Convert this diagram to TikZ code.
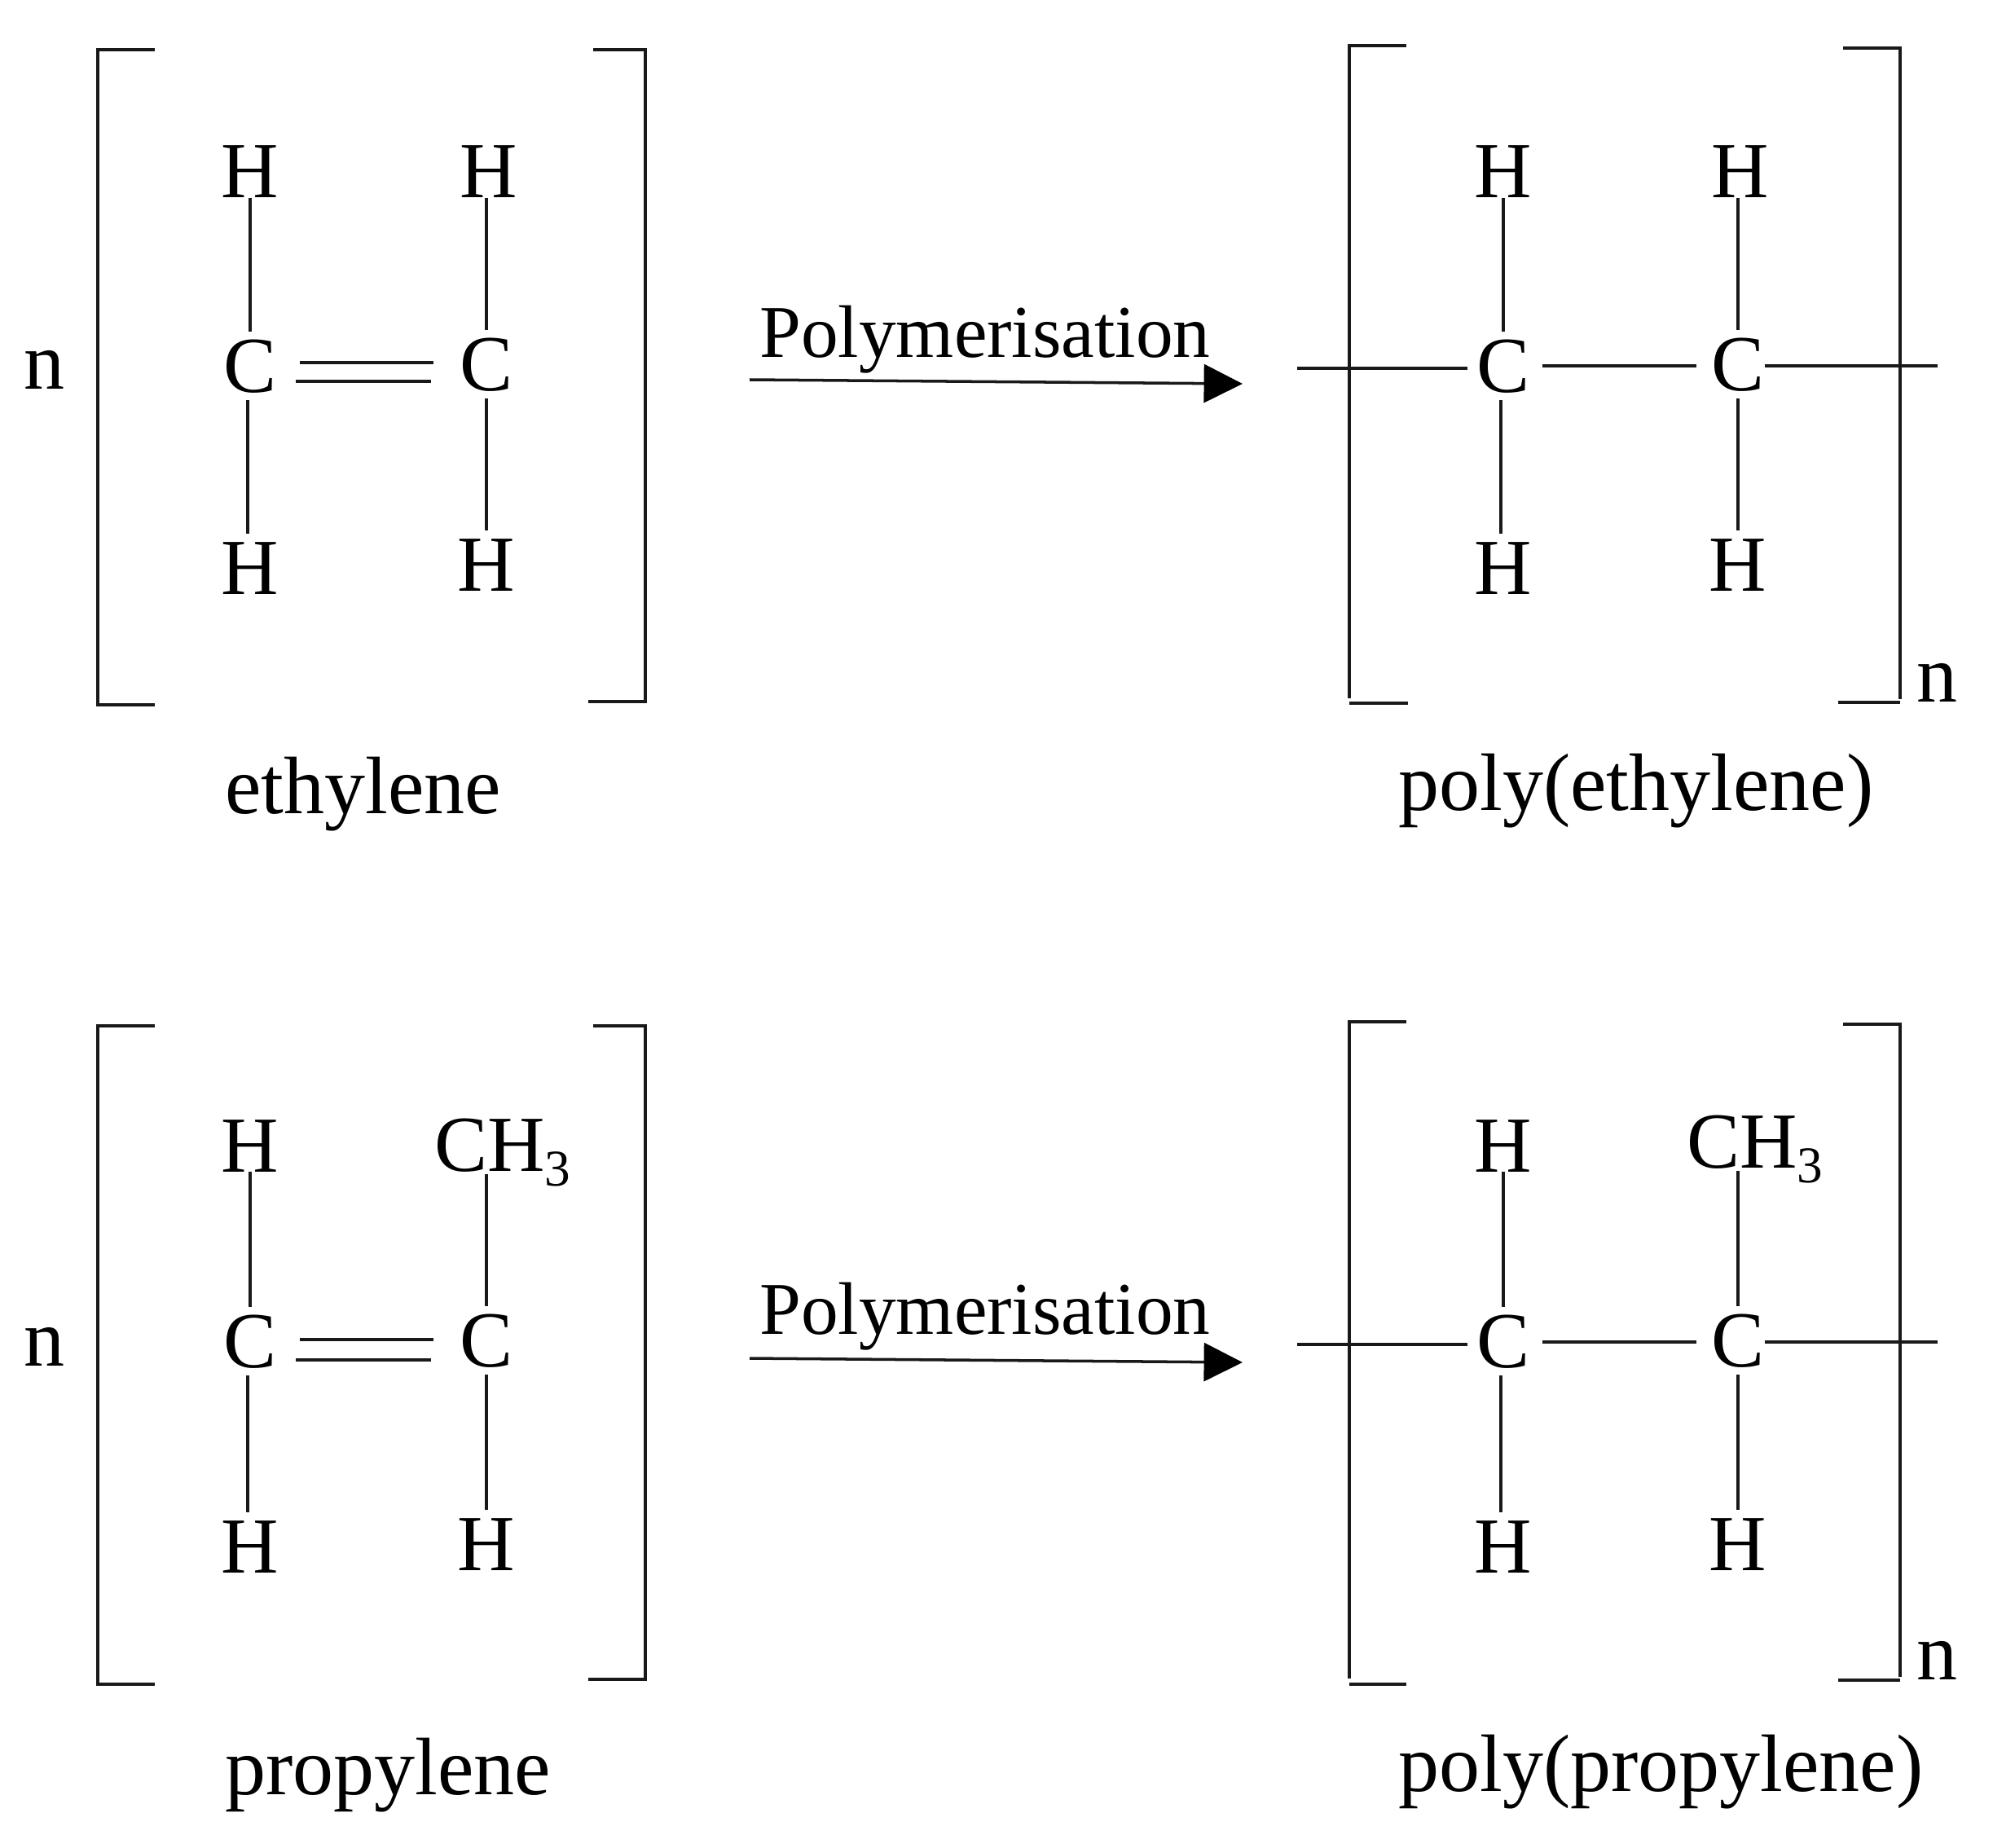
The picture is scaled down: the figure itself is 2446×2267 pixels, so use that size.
\documentclass[tikz,border=0pt]{standalone}
\usepackage{fontspec}
\setmainfont{Liberation Serif}
\usetikzlibrary{arrows.meta}

\newcommand{\lowthree}{\raisebox{-10.5pt}{\fontsize{36}{36}\selectfont 3}}

\tikzset{
  atom/.style = {anchor = base, inner xsep = 0pt, inner ysep = 5.5pt, text height = 36.5pt, text depth = 0pt, font = \fontsize{55.5}{60}\selectfont},
  tophyd/.style = {atom, inner ysep = 0pt},
  methyl/.style = {atom, anchor = base west, inner ysep = 2pt},
  label/.style = {anchor = base west, inner sep = 0pt, font = \fontsize{56.9}{60}\selectfont},
  reaction/.style = {anchor = base west, inner sep = 0pt, font = \fontsize{52}{56}\selectfont},
  bond/.style = {line width = 2pt, black!90},
  bracket/.style = {line width = 2pt, black!90, line join = miter},
  yields/.style = {line width = 2pt, black!90, -{Triangle[length = 27pt, width = 26.7pt, black]}}
}

\begin{document}
\begin{tikzpicture}[x = 0.02cm, y = -0.02cm]

  \useasboundingbox (0, 0) rectangle (2446, 2267);

  % Brackets
  \draw[bracket] (190, 61) -- (120, 61) -- (120, 865) -- (190, 865);
  \draw[bracket] (728, 61) -- (792, 61) -- (792, 861) -- (722, 861);
  \draw[bracket] (1726, 56) -- (1656, 56) -- (1656, 857);
  \draw[bracket] (1656, 863) -- (1728, 863);
  \draw[bracket] (2262, 59) -- (2332, 59) -- (2332, 858);
  \draw[bracket] (2332, 862) -- (2256, 862);
  \draw[bracket] (190, 1259) -- (120, 1259) -- (120, 2067) -- (190, 2067);
  \draw[bracket] (728, 1259) -- (792, 1259) -- (792, 2061) -- (722, 2061);
  \draw[bracket] (1726, 1254) -- (1656, 1254) -- (1656, 2060);
  \draw[bracket] (1656, 2067) -- (1726, 2067);
  \draw[bracket] (2262, 1257) -- (2332, 1257) -- (2332, 2058);
  \draw[bracket] (2332, 2062) -- (2256, 2062);

  % Ethylene
  \node[tophyd] (ehtl) at (307, 243) {H};
  \node[tophyd] (ehtr) at (600, 243) {H};
  \node[atom] (eca) at (307, 481) {C};
  \node[atom] (ecb) at (597, 479) {C};
  \node[atom] (ehbl) at (307, 729) {H};
  \node[atom] (ehbr) at (597, 725) {H};
  \draw[bond] (ehtl.south) -- (eca.north);
  \draw[bond] (ehtr.south -| ecb) -- (ecb.north);
  \draw[bond] ([shift = {(-3, 0)}]eca.south) -- ([shift = {(-3, 0)}]ehbl.north);
  \draw[bond] (ecb.south) -- (ehbr.north);
  \draw[bond] ([shift = {(28, -4)}]eca.east) -- ([shift = {(-32, -2)}]ecb.west);
  \draw[bond] ([shift = {(23, 19)}]eca.east) -- ([shift = {(-35, 21)}]ecb.west);

  % Poly(ethylene)
  \node[tophyd] (phtl) at (1845, 243) {H};
  \node[tophyd] (phtr) at (2136, 243) {H};
  \node[atom] (pca) at (1845, 481) {C};
  \node[atom] (pcb) at (2133, 479) {C};
  \node[atom] (phbl) at (1845, 729) {H};
  \node[atom] (phbr) at (2133, 725) {H};
  \coordinate (pl) at (1592, 452);
  \coordinate (pr) at (2378, 449);
  \draw[bond] (phtl.south) -- (pca.north);
  \draw[bond] (phtr.south -| pcb) -- (pcb.north);
  \draw[bond] ([shift = {(-3, 0)}]pca.south) -- ([shift = {(-3, 0)}]phbl.north);
  \draw[bond] (pcb.south) -- (phbr.north);
  \draw[bond] (pl) -- ([shift = {(-11, 0)}]pca.west |- pl);
  \draw[bond] ([shift = {(15, 0)}]pca.east |- pr) -- ([shift = {(-18, 0)}]pcb.west |- pr);
  \draw[bond] (pcb.east |- pr) -- (pr);

  % Propylene
  \node[tophyd] (rhtl) at (307, 1438) {H};
  \node[methyl] (rme) at (533, 1437) {CH\lowthree};
  \node[atom] (rca) at (307, 1678) {C};
  \node[atom] (rcb) at (597, 1677) {C};
  \node[atom] (rhbl) at (307, 1930) {H};
  \node[atom] (rhbr) at (597, 1927) {H};
  \draw[bond] (rhtl.south) -- (rca.north);
  \draw[bond] (rme.south -| rcb) -- (rcb.north);
  \draw[bond] ([shift = {(-3, 0)}]rca.south) -- ([shift = {(-3, 0)}]rhbl.north);
  \draw[bond] (rcb.south) -- (rhbr.north);
  \draw[bond] ([shift = {(28, -2)}]rca.east) -- ([shift = {(-32, -1)}]rcb.west);
  \draw[bond] ([shift = {(23, 23)}]rca.east) -- ([shift = {(-35, 24)}]rcb.west);

  % Poly(propylene)
  \node[tophyd] (qhtl) at (1845, 1438) {H};
  \node[methyl] (qme) at (2070, 1433) {CH\lowthree};
  \node[atom] (qca) at (1845, 1678) {C};
  \node[atom] (qcb) at (2133, 1677) {C};
  \node[atom] (qhbl) at (1845, 1930) {H};
  \node[atom] (qhbr) at (2133, 1927) {H};
  \coordinate (ql) at (1592, 1650);
  \coordinate (qr) at (2378, 1647);
  \draw[bond] (qhtl.south) -- (qca.north);
  \draw[bond] (qme.south -| qcb) -- (qcb.north);
  \draw[bond] ([shift = {(-3, 0)}]qca.south) -- ([shift = {(-3, 0)}]qhbl.north);
  \draw[bond] (qcb.south) -- (qhbr.north);
  \draw[bond] (ql) -- ([shift = {(-11, 0)}]qca.west |- ql);
  \draw[bond] ([shift = {(15, 0)}]qca.east |- qr) -- ([shift = {(-18, 0)}]qcb.west |- qr);
  \draw[bond] (qcb.east |- qr) -- (qr);

  % Repeat counts
  \node[label] (na) at (29, 477) {n};
  \node[label] (nb) at (2352, 861) {n};
  \node[label] (nc) at (29, 1676) {n};
  \node[label] (nd) at (2352, 2061) {n};

  % Names
  \node[label] (ename) at (276, 998) {ethylene};
  \node[label] (pname) at (1716, 994) {poly(ethylene)};
  \node[label] (rname) at (276, 2202) {propylene};
  \node[label] (qname) at (1716, 2198) {poly(propylene)};

  % Reactions
  \node[reaction] (polya) at (932, 438) {Polymerisation};
  \node[reaction] (polyb) at (932, 1637) {Polymerisation};
  \coordinate (aa) at (920, 466);
  \coordinate (ab) at (1525, 471);
  \coordinate (ba) at (920, 1667);
  \coordinate (bb) at (1525, 1672);
  \draw[yields] (aa) -- (ab);
  \draw[yields] (ba) -- (bb);

\end{tikzpicture}
\end{document}
